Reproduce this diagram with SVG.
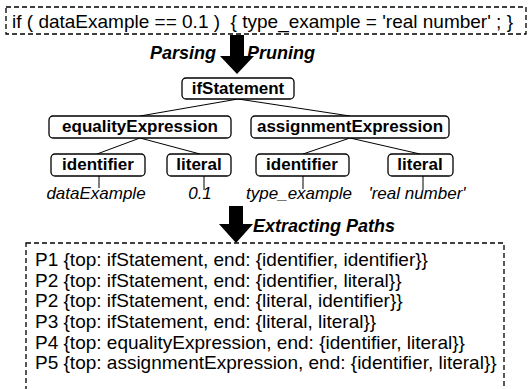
<svg xmlns="http://www.w3.org/2000/svg" width="532" height="389" viewBox="0 0 532 389">
<style>
.dash{fill:none;stroke:#000;stroke-width:1.3;stroke-dasharray:5 3}
.node rect{fill:#fff;stroke:#000;stroke-width:1.3}
.node text{font-family:"Liberation Sans",Arial,sans-serif;font-weight:bold;font-size:17px;text-anchor:middle;fill:#000}
.leaf{font-family:"Liberation Sans",Arial,sans-serif;font-style:italic;font-size:17px;text-anchor:middle;fill:#000}
.lbl{font-family:"Liberation Sans",Arial,sans-serif;font-style:italic;font-weight:bold;font-size:18px;fill:#000}
.code{font-family:"Liberation Sans",Arial,sans-serif;font-size:19px;fill:#000;white-space:pre}
.edge{stroke:#000;stroke-width:1;fill:none}
</style>
<rect class="dash" x="6" y="7" width="520" height="27"/>
<text class="code" x="12" y="28" xml:space="preserve">if ( dataExample == 0.1 )  { type_example = 'real number' ; }</text>
<polygon points="230,35 244,35 244,56 254,56 237,74 220,56 230,56" fill="#000"/>
<text class="lbl" x="216" y="59" text-anchor="end">Parsing</text>
<text class="lbl" x="247" y="59">Pruning</text>
<g id="connectors">
<line class="edge" x1="238" y1="99" x2="140" y2="116"/>
<line class="edge" x1="238" y1="99" x2="350" y2="116"/>
<line class="edge" x1="140" y1="138" x2="97" y2="154"/>
<line class="edge" x1="140" y1="138" x2="200" y2="154"/>
<line class="edge" x1="350" y1="138" x2="303" y2="154"/>
<line class="edge" x1="350" y1="138" x2="420" y2="154"/>
<line class="edge" x1="99" y1="176" x2="99" y2="188"/>
<line class="edge" x1="204" y1="176" x2="204" y2="190"/>
<line class="edge" x1="303" y1="176" x2="303" y2="189"/>
<line class="edge" x1="423" y1="176" x2="423" y2="190"/>
</g>
<g id="ifStatement" class="node"><rect x="182" y="78" width="112" height="21" rx="4"/><text x="238" y="94">ifStatement</text></g>
<g id="equalityExpression" class="node"><rect x="49" y="116" width="182" height="22" rx="4"/><text x="140" y="132">equalityExpression</text></g>
<g id="assignmentExpression" class="node"><rect x="251" y="116" width="198" height="22" rx="4"/><text x="350" y="132">assignmentExpression</text></g>
<g id="identifier1" class="node"><rect x="51" y="154" width="94" height="22" rx="4"/><text x="98" y="170">identifier</text></g>
<g id="literal1" class="node"><rect x="167" y="154" width="64" height="22" rx="4"/><text x="199" y="170">literal</text></g>
<g id="identifier2" class="node"><rect x="256" y="154" width="93" height="22" rx="4"/><text x="302" y="170">identifier</text></g>
<g id="literal2" class="node"><rect x="388" y="154" width="65" height="22" rx="4"/><text x="420" y="170">literal</text></g>
<text class="leaf" x="96" y="199">dataExample</text>
<text class="leaf" x="200" y="199">0.1</text>
<text class="leaf" x="299" y="199">type_example</text>
<text class="leaf" x="417" y="199">'real number'</text>
<polygon points="229,206 243,206 243,224 253,224 236,243 219,224 229,224" fill="#000"/>
<text class="lbl" x="253" y="232">Extracting Paths</text>
<rect class="dash" x="26" y="243" width="478" height="160"/>
<g class="code">
<text x="35" y="266">P1 {top: ifStatement, end: {identifier, identifier}}</text>
<text x="35" y="287">P2 {top: ifStatement, end: {identifier, literal}}</text>
<text x="35" y="307">P2 {top: ifStatement, end: {literal, identifier}}</text>
<text x="35" y="328">P3 {top: ifStatement, end: {literal, literal}}</text>
<text x="35" y="349">P4 {top: equalityExpression, end: {identifier, literal}}</text>
<text x="35" y="369">P5 {top: assignmentExpression, end: {identifier, literal}}</text>
</g>
</svg>
